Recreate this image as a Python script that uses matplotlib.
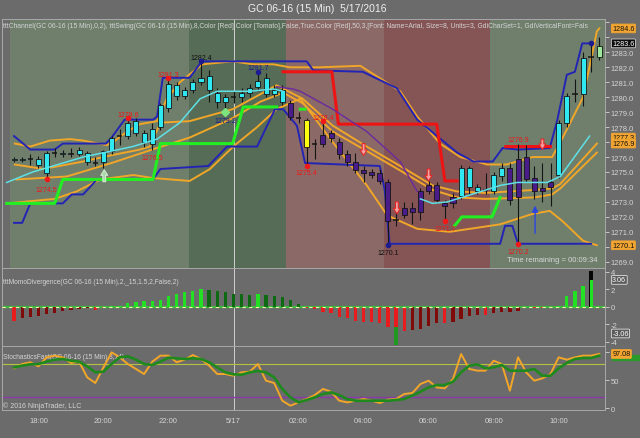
import numpy as np
import matplotlib.pyplot as plt
from matplotlib.patches import Rectangle
import matplotlib.transforms as mtransforms

plt.rcParams['font.family'] = ['Liberation Sans', 'DejaVu Sans']

# ---- 15 min bars of GC 06-16, bar 0 = 17:15 on 5/16 ----
opens = [1275.8, 1275.8, 1275.9, 1275.5, 1274.9, 1276.3, 1276.3, 1276.2, 1276.2, 1276.3,
         1275.6, 1275.7, 1276.4, 1277.4, 1277.4, 1278.4, 1277.6, 1276.9, 1278.0, 1279.3,
         1280.8, 1280.1, 1280.5, 1281.0, 1281.4, 1280.3, 1279.7, 1280.0, 1280.0, 1280.3,
         1280.7, 1281.3, 1280.2, 1280.5, 1279.6, 1278.6, 1278.5, 1276.9, 1276.9, 1277.6,
         1277.0, 1276.2, 1275.7, 1275.1, 1275.0, 1274.9, 1274.3, 1271.8, 1272.1, 1272.3,
         1272.3, 1273.7, 1274.1, 1272.9, 1272.9, 1273.4, 1275.3, 1274.0, 1273.8, 1273.7,
         1274.7, 1275.3, 1273.3, 1276.0, 1274.6, 1273.7, 1274.0, 1274.8, 1278.3, 1280.2,
         1280.2, 1282.7, 1282.7]
highs = [1276.0, 1276.0, 1276.2, 1276.1, 1276.4, 1276.6, 1276.5, 1276.6, 1276.7, 1276.4,
         1276.0, 1276.5, 1277.4, 1277.9, 1278.6, 1278.6, 1277.8, 1278.3, 1279.6, 1281.3,
         1281.0, 1280.7, 1281.2, 1282.4, 1281.8, 1280.6, 1280.2, 1280.4, 1280.6, 1280.9,
         1281.7, 1281.6, 1280.8, 1280.8, 1279.8, 1279.0, 1278.6, 1277.2, 1278.4, 1277.8,
         1277.3, 1276.5, 1276.3, 1275.4, 1275.2, 1275.2, 1274.5, 1272.5, 1273.0, 1273.0,
         1273.9, 1274.4, 1274.3, 1273.1, 1273.6, 1275.5, 1275.4, 1274.2, 1274.9, 1275.0,
         1275.6, 1275.6, 1276.9, 1276.8, 1275.4, 1275.6, 1275.6, 1278.5, 1280.3, 1281.2,
         1283.0, 1283.6, 1284.0]
lows = [1275.7, 1275.7, 1275.5, 1275.3, 1274.5, 1276.0, 1276.0, 1276.0, 1276.1, 1275.5,
        1275.4, 1275.3, 1276.2, 1276.8, 1277.2, 1277.4, 1276.7, 1276.5, 1277.8, 1279.0,
        1279.8, 1279.9, 1280.3, 1280.8, 1279.7, 1279.3, 1279.2, 1279.6, 1279.7, 1280.0,
        1280.4, 1280.0, 1280.0, 1279.5, 1278.5, 1278.3, 1275.4, 1275.9, 1276.7, 1277.0,
        1275.9, 1275.4, 1274.9, 1274.3, 1274.6, 1274.2, 1270.1, 1271.4, 1271.9, 1271.5,
        1271.8, 1273.5, 1272.9, 1271.7, 1272.6, 1273.2, 1273.5, 1273.5, 1273.5, 1273.5,
        1274.4, 1272.8, 1270.2, 1274.3, 1273.2, 1273.0, 1272.7, 1274.6, 1278.0, 1279.7,
        1279.4, 1281.7, 1282.5]
closes = [1275.9, 1275.9, 1275.9, 1275.9, 1276.3, 1276.3, 1276.2, 1276.2, 1276.5, 1275.7,
          1275.6, 1276.4, 1277.3, 1277.4, 1278.3, 1277.6, 1277.0, 1277.9, 1279.5, 1280.9,
          1280.1, 1280.5, 1281.0, 1281.3, 1280.5, 1279.7, 1280.0, 1280.0, 1280.3, 1280.6,
          1281.1, 1280.2, 1280.5, 1279.7, 1278.7, 1278.6, 1276.7, 1276.9, 1277.5, 1277.3,
          1276.2, 1275.7, 1275.1, 1274.9, 1274.8, 1274.4, 1271.7, 1271.8, 1272.6, 1272.6,
          1273.7, 1274.1, 1273.1, 1272.7, 1273.3, 1275.3, 1274.0, 1273.7, 1273.8, 1274.8,
          1275.3, 1273.1, 1275.9, 1274.5, 1273.7, 1273.9, 1274.3, 1278.3, 1280.1, 1280.2,
          1282.6, 1282.7, 1283.4]
# c = cyan, p = purple, y = yellow, k = neutral, g = live bar
bar_kind = "c" * 34 + "p" + "k" + "y" + "k" + "p" * 17 + "c" * 6 + "p" * 6 + "c" * 5 + "g"

# indicator lines (bar index, price)
chan_hi_x = [0, 2, 5, 6, 11.3, 12, 13.6, 17.1, 17.6, 18.3, 21.6, 23.1, 36, 36.8, 42.9, 47.1,
             49.6, 54.5, 56.5, 58.9, 60.1, 62, 65.9, 66.8, 68, 69, 69.9, 71]
chan_hi_y = [1277.4, 1276.5, 1276.5, 1276.9, 1276.9, 1277.3, 1278.5, 1278.5, 1278.7, 1281.3,
             1281.3, 1282.4, 1282.4, 1281.8, 1281.7, 1280.6, 1278.5, 1276.3, 1275.7, 1275.7,
             1276.6, 1276.5, 1276.6, 1278.4, 1281.5, 1281.7, 1283.6, 1283.6]
chan_lo_x = [0, 1, 2, 6, 7.1, 8.5, 10.2, 17.1, 18, 23.9, 26.2, 29.9, 32.1, 33.1, 34.8, 35.8,
             45, 45.6, 46.2, 59.8, 60.4, 61.3, 62, 71]
chan_lo_y = [1271.6, 1271.6, 1272.9, 1272.9, 1273.5, 1273.5, 1274.5, 1274.5, 1275.2, 1275.4,
             1276.7, 1276.7, 1279.2, 1279.2, 1278.1, 1275.6, 1275.4, 1273.8, 1270.2, 1270.2,
             1271.4, 1271.4, 1270.2, 1270.2]
band_up_x = [0.1, 2, 4.4, 6.9, 8.5, 11.4, 12.2, 13.9, 15.5, 17.6, 18.8, 20.4, 22, 23.2, 26.9,
             29.4, 31.9, 33.9, 37.6, 42.6, 47.5, 49.6, 52.4, 54.9, 58.2, 60.6, 63.8, 66.2,
             67.5, 70, 71.7, 72]
band_up_y = [1276.9, 1276.7, 1277.1, 1277.2, 1277.1, 1276.8, 1277.0, 1277.7, 1278.2, 1278.4,
             1279.9, 1281.0, 1281.7, 1282.2, 1282.4, 1282.2, 1282.2, 1282.0, 1282.0, 1282.1,
             1280.4, 1278.7, 1276.9, 1276.0, 1275.5, 1275.5, 1276.0, 1276.0, 1277.3, 1280.0,
             1284.4, 1284.6]
band_m1_x = [0.1, 3.6, 8.5, 11.8, 15.5, 16.7, 18, 21.6, 26.9, 30.3, 32.3, 35.5, 39.2, 43.4,
             47.5, 51.5, 54.5, 58, 64, 66.2, 67.2, 71.7]
band_m1_y = [1275.5, 1275.2, 1275.7, 1276.1, 1276.5, 1276.7, 1278.3, 1278.4, 1279.2, 1280.2,
             1280.8, 1279.9, 1278.1, 1276.7, 1275.4, 1274.1, 1273.7, 1273.6, 1273.8, 1273.9,
             1274.2, 1276.9]
band_m2_x = [0.3, 6.5, 12, 17, 21.6, 26.9, 30.3, 33.1, 35.5, 39.2, 43.4, 47.5, 51.5, 54.5,
             58, 64, 66.2, 67.2, 71.7]
band_m2_y = [1274.5, 1274.7, 1275.6, 1276.5, 1277.3, 1278.6, 1279.7, 1280.3, 1279.6, 1277.7,
             1276.4, 1275.1, 1273.8, 1273.3, 1273.2, 1273.3, 1273.5, 1273.9, 1276.3]
band_lo_x = [-0.9, 5, 7.7, 10.6, 14.7, 17, 21.6, 24.1, 26.2, 27.4, 29.9, 32.3, 35.2, 39.2,
             43.4, 45.9, 49.6, 53.6, 59.8, 63.8, 65.9, 67.5, 70, 71.7]
band_lo_y = [1272.9, 1273.2, 1273.7, 1274.5, 1274.8, 1274.6, 1274.4, 1275.2, 1276.3, 1276.9,
             1278.0, 1279.2, 1279.9, 1277.0, 1274.1, 1272.1, 1271.2, 1271.0, 1271.5, 1272.2,
             1272.4, 1271.7, 1270.4, 1270.1]
ma_x = [-0.9, 2.3, 8.5, 14.6, 17.6, 20.4, 22.9, 25, 29, 31.9, 33.1, None,
        50, 51.5, 53.3, 55.7, 59.8, 61.9, 65.6, 67.2, 70.8]
ma_y = [1274.3, 1275.0, 1276.0, 1276.7, 1277.2, 1278.3, 1279.9, 1280.4, 1280.4, 1280.55,
        1280.4, None, 1273.2, 1272.9, 1273.0, 1273.4, 1274.1, 1274.3, 1274.3, 1274.7, 1277.4]
dn_ma_x = [32.3, 34.3, 35.2, 39.2, 43.4, 47.5, 49.6]
dn_ma_y = [1280.7, 1280.55, 1280.4, 1279.2, 1277.7, 1275.7, 1273.7]
stop_up_x = [-0.9, 5.0, 6.0, 17.1, 18.0, 26.9, 28.2, 32.3, None, 35.2, 35.8, None,
             54.2, 55.1, 58.8, 59.8]
stop_up_y = [1272.9, 1272.9, 1274.5, 1274.5, 1276.9, 1276.9, 1279.35, 1279.35, None,
             1279.2, 1279.2, None, 1271.4, 1272.0, 1272.0, 1273.3]
stop_dn_x = [33.1, 39.1, 39.9, 52.0, 53.0, 54.5, None, 60.5, 66.0]
stop_dn_y = [1281.7, 1281.7, 1278.2, 1278.2, 1274.4, 1274.4, None, 1276.7, 1276.7]

# swing labels (bar, price, text, colour)
swing_labels = [(4, 1273.85, '1274.5', 'r'), (14, 1278.85, '1278.6', 'r'),
                (17, 1275.95, '1276.5', 'r'), (19, 1281.55, '1281.3', 'r'),
                (23, 1282.65, '1282.4', 'k'), (26, 1278.45, '1279.2', 'b'),
                (30, 1282.0, '1281.7', 'b'), (36, 1274.95, '1275.4', 'r'),
                (38, 1278.65, '1278.4', 'r'), (46, 1269.6, '1270.1', 'k'),
                (53, 1271.2, '1271.7', 'r'), (62, 1277.2, '1276.9', 'r'),
                (62, 1269.65, '1270.2', 'r')]
swing_dots = [(4, 1274.5, 'r'), (14, 1278.6, 'r'), (19, 1281.3, 'r'), (23, 1282.4, 'b'),
              (30, 1281.7, 'b'), (36, 1275.4, 'r'), (38, 1278.4, 'r'), (46, 1270.1, 'b'),
              (53, 1271.7, 'r'), (62, 1270.2, 'r'), (71, 1283.6, 'b')]
down_arrows = [(43, 1276.9, 1276.1), (47.1, 1273.0, 1272.2), (51, 1275.2, 1274.4), (65, 1277.2, 1276.5)]

# momentum divergence histogram
momo = [-1.6, -1.33, -1.15, -1.05, -0.84, -0.72, -0.53, -0.35, -0.27, -0.2,
        -0.35, -0.2, 0.05, 0.1, 0.38, 0.5, 0.6, 0.7, 0.8, 1.25,
        1.45, 1.7, 1.8, 2.0, 1.95, 1.84, 1.64, 1.5, 1.45, 1.37,
        1.45, 1.33, 1.25, 1.07, 0.8, 0.3, -0.1, -0.27, -0.65, -0.72,
        -1.2, -1.33, -1.6, -1.8, -1.8, -1.85, -2.28, -2.3, -2.74, -2.67,
        -2.55, -2.25, -1.85, -1.9, -1.8, -1.4, -1.05, -0.92, -0.95, -0.75,
        -0.65, -0.57, -0.45, -0.05, -0.1, -0.1, -0.2, 0.05, 1.17, 1.8,
        2.4, 3.06, np.nan]
div_bars = [47, 71]
div_vals = [-4.4, 4.05]
div_cols = ['#1f9a1f', '#050505']

# stochastics fast (3, 14)
stoch_k = [71.4, 79.2, 82.2, 75.0, 91.1, 94.1, 91.1, 81.0, 83.3, 55.4,
           45.3, 73.2, 100.0, 91.1, 79.2, 70.3, 61.3, 83.3, 94.1, 94.1,
           82.2, 86.9, 95.2, 88.1, 76.2, 61.3, 61.3, 58.3, 64.3, 65.5,
           79.2, 49.4, 45.3, 13.7, 4.8, 10.7, 16.7, 23.8, 34.6, 29.8,
           13.7, 10.7, 13.7, 16.7, 13.7, 9.6, 15.5, 16.7, 25.6, 27.4,
           43.5, 49.4, 37.5, 35.7, 52.4, 97.0, 70.3, 67.3, 67.3, 85.1,
           79.2, 31.6, 91.1, 64.3, 49.4, 53.6, 61.3, 91.1, 86.9, 91.1,
           94.1, 94.1, 97.08]
stoch_d = [73.2, 76.2, 78.6, 79.2, 83.3, 86.9, 88.1, 85.1, 83.3, 75.0,
           64.3, 65.5, 79.2, 91.1, 92.9, 86.9, 79.2, 77.4, 83.3, 90.5,
           89.3, 88.1, 89.3, 88.1, 82.2, 73.2, 64.3, 60.7, 60.1, 64.3,
           66.7, 64.3, 55.4, 34.6, 19.7, 10.7, 14.9, 19.7, 25.6, 28.6,
           23.8, 16.7, 13.7, 13.7, 13.7, 13.7, 13.7, 14.9, 16.7, 22.7,
           29.8, 37.5, 41.7, 41.7, 47.6, 64.3, 76.2, 78.6, 71.4, 73.2,
           77.4, 67.3, 67.3, 67.3, 70.3, 58.3, 58.3, 71.4, 81.0, 88.1,
           89.9, 89.9, 94.1]

time_ticks = [3, 11, 19, 27, 35, 43, 51, 59, 67]
time_labels = ['18:00', '20:00', '22:00', '5/17', '02:00', '04:00', '06:00', '08:00', '10:00']

# session shading: edges in bar units and colours
session_edges = [-0.5, 21.5, 33.5, 45.5, 58.5, 73]
session_cols = ['#6f7f6c', '#566c56', '#8a6966', '#855556', '#6f7f6c']

# right-hand value tags
price_tags = [1284.6, 1283.6, 1277.3, 1276.9, 1270.1]
momo_tags = [3.06, -3.06]
stoch_tag = 97.08

BG = '#6b6b6b'
TXT = '#d4d4d4'
W, H = 640, 439

fig = plt.figure(figsize=(W / 100, H / 100), dpi=100, facecolor=BG)


def rect(x0, y0, x1, y1):
    return [x0 / W, 1 - y1 / H, (x1 - x0) / W, (y1 - y0) / H]


ax = fig.add_axes(rect(2, 20, 605, 269))
axm = fig.add_axes(rect(2, 269, 605, 347), sharex=ax)
axs = fig.add_axes(rect(2, 347, 605, 411), sharex=ax)

for a in (ax, axm, axs):
    a.set_facecolor(BG)
    for s in a.spines.values():
        s.set_color('#a8a8a8')
        s.set_linewidth(0.7)
    a.yaxis.tick_right()
    a.tick_params(axis='y', length=3, width=0.6, pad=1, labelsize=5.5, colors=TXT)
    a.axvline(27, color='#d0d0d0', lw=0.7, zorder=2)
ax.tick_params(axis='x', length=0, labelbottom=False)
axm.tick_params(axis='x', length=0, labelbottom=False)
axs.tick_params(axis='x', length=0, pad=5, labelsize=5.5, colors=TXT)
ax.set_xlim(-1.48, 72.7)

# ---------------- price panel ----------------
ax.set_ylim(1268.58, 1285.23)
pticks = np.arange(1269, 1286, 1)
ax.set_yticks(pticks)
# labels hidden behind the value tags are left blank
ax.set_yticklabels(['' if v in (1270, 1277, 1284, 1285) else f'{v:.1f}' for v in pticks])

for i in range(len(session_cols)):
    ax.axvspan(session_edges[i], session_edges[i + 1], color=session_cols[i], lw=0, zorder=0)

ax.plot(band_up_x, band_up_y, color='#f0a628', lw=1.4, zorder=3)
ax.plot(band_m1_x, band_m1_y, color='#f0a628', lw=1.4, zorder=3)
ax.plot(band_m2_x, band_m2_y, color='#f0a628', lw=1.4, zorder=3)
ax.plot(band_lo_x, band_lo_y, color='#f0a628', lw=1.4, zorder=3)
ax.plot(chan_hi_x, chan_hi_y, color='#2424b4', lw=1.4, zorder=3)
ax.plot(chan_lo_x, chan_lo_y, color='#2424b4', lw=1.4, zorder=3)
ax.plot(stop_up_x, stop_up_y, color='#22ee22', lw=2.2, zorder=3)
ax.plot(stop_dn_x, stop_dn_y, color='#ee1414', lw=2.2, zorder=3)
ax.plot(dn_ma_x, dn_ma_y, color='#6a2a9e', lw=1.0, zorder=7)
ax.plot(ma_x, ma_y, color='#5ee0e6', lw=1.1, zorder=7)

body_cols = {'c': '#30e8f2', 'p': '#4a1c8a', 'y': '#ffff10', 'k': '#30e8f2', 'g': '#9ee89e'}
for i in range(len(opens)):
    o, hi, lo, c = opens[i], highs[i], lows[i], closes[i]
    ax.vlines(i, lo, hi, color='#151515', lw=0.8, zorder=5)
    b0, b1 = min(o, c), max(o, c)
    if b1 - b0 < 0.05:
        ax.hlines(o, i - 0.33, i + 0.33, color='#151515', lw=1.1, zorder=6)
    else:
        ax.add_patch(Rectangle((i - 0.31, b0), 0.62, b1 - b0, facecolor=body_cols[bar_kind[i]],
                               edgecolor='#151515', lw=0.6, zorder=6))

lab_cols = {'r': '#f01818', 'k': '#101010', 'b': '#1c1c90'}
for bx, by, t, c in swing_labels:
    ax.text(bx, by, t, color=lab_cols[c], fontsize=5, ha='center', va='center', zorder=8)
for bx, by, c in swing_dots:
    ax.plot(bx, by, 'o', ms=3, color=lab_cols[c], zorder=8)
ax.plot(26, 1279.0, 'D', ms=4, color='#7ee27e', zorder=8)

arrow_style = 'simple,head_width=0.5,head_length=0.4,tail_width=0.2'
for bx, top, tip in down_arrows:
    ax.annotate('', xy=(bx, tip), xytext=(bx, top),
                arrowprops=dict(arrowstyle=arrow_style, mutation_scale=10, shrinkA=0, shrinkB=0,
                                fc='#f4a0a0', ec='#e82020', lw=0.7), zorder=8)
ax.annotate('', xy=(11.1, 1275.15), xytext=(11.1, 1274.35),
            arrowprops=dict(arrowstyle=arrow_style, mutation_scale=10, shrinkA=0, shrinkB=0,
                            fc='#a8d8a8', ec='#d8f0d8', lw=0.7), zorder=8)
ax.annotate('', xy=(64.1, 1272.75), xytext=(64.1, 1270.9),
            arrowprops=dict(arrowstyle='-|>', color='#2c46e0', lw=1.0, mutation_scale=9,
                            shrinkA=0, shrinkB=0), zorder=8)

# indicator caption is cut off at the panel edge in the original
ax.text(0.002, 0.973, 'tttChannel(GC 06-16 (15 Min),0,2), tttSwing(GC 06-16 (15 Min),8,Color [Red],'
        'Color [Tomato],False,True,Color [Red],50,3,[Font: Name=Arial, Size=8, Units=3, '
        'GdiCharSet=1, GdiVerticalFont=Fals', transform=ax.transAxes, fontsize=4.9,
        color=TXT, ha='left', va='center', zorder=9)
ax.text(0.987, 0.036, 'Time remaining = 00:09:34', transform=ax.transAxes, fontsize=5.5,
        color='#d8d8d8', ha='right', va='center', zorder=9)


def tag(axis, yv, txt, fc, tc='#111111', ec=None):
    tr = mtransforms.blended_transform_factory(axis.transAxes, axis.transData)
    axis.text(1.012, yv, txt, transform=tr, fontsize=5.2, color=tc, ha='left', va='center',
              bbox=dict(boxstyle='round,pad=0.12', fc=fc, ec=ec or fc, lw=0.6),
              clip_on=False, zorder=10)


for v in price_tags:
    if v == 1283.6:
        tag(ax, v, f'{v:.1f}', '#0c0c0c', tc='white', ec='#d0d0d0')
    else:
        tag(ax, v, f'{v:.1f}', '#f2a530')

# ---------------- momentum panel ----------------
axm.set_ylim(-4.49, 4.42)
axm.set_yticks([-4, -2, 0, 2, 4])
axm.set_yticklabels(['-4', '-2', '0', '2', '4'])
mcols = []
for i, v in enumerate(momo):
    prev = momo[i - 1] if i > 0 else v
    if v >= 0:
        mcols.append('#22e022' if v >= prev else '#0e6a12')
    else:
        mcols.append('#e81c1c' if v <= prev else '#7e0a0a')
axm.bar(div_bars, div_vals, width=0.45, color=div_cols, zorder=3)
axm.bar(np.arange(len(momo)), momo, width=0.4, color=mcols, zorder=4)
axm.axhline(0, color='#3cb83c', lw=1.6, zorder=2)
axm.axhline(0, color='#f4f0b0', lw=0.8, ls=(0, (3, 3)), zorder=5)
axm.text(0.002, 0.83, 'tttMomoDivergence(GC 06-16 (15 Min),2,_15,1.5,2,False,2)',
         transform=axm.transAxes, fontsize=4.8, color=TXT, ha='left', va='center')
for v in momo_tags:
    tag(axm, v, f'{v:.2f}', '#5c5c5c', tc='white', ec='#e0e0e0')

# ---------------- stochastics panel ----------------
axs.set_ylim(-2.9, 111.3)
axs.set_yticks([0, 50, 100])
axs.set_yticklabels(['0', '50', ''])
axs.axhline(80, color='#b4c244', lw=0.8, zorder=2)
axs.axhline(20, color='#8a3aa8', lw=1.0, zorder=2)
xs = np.arange(len(stoch_k))
axs.plot(xs, stoch_k, color='#f2a628', lw=1.4, zorder=4)
axs.plot(xs, stoch_d, color='#1e8a1e', lw=1.9, zorder=5)
axs.text(0.002, 0.84, 'StochasticsFast(GC 06-16 (15 Min),3,14)', transform=axs.transAxes,
         fontsize=4.8, color=TXT, ha='left', va='center')
axs.text(0.002, 0.07, '\u00a9 2016 NinjaTrader, LLC', transform=axs.transAxes,
         fontsize=5, color=TXT, ha='left', va='center')
# green %D tag peeking out under the %K tag
str_ = mtransforms.blended_transform_factory(axs.transAxes, axs.transData)
axs.add_patch(Rectangle((1.012, stoch_d[-1] - 8), 0.05, 9, transform=str_, fc='#2a9a2a',
                        ec='#2a9a2a', clip_on=False, zorder=9))
tag(axs, stoch_tag, f'{stoch_tag:.2f}', '#f2a530')
axs.set_xticks(time_ticks)
axs.set_xticklabels(time_labels)

fig.text(0.496, 1 - 9 / H, 'GC 06-16 (15 Min)  5/17/2016', fontsize=7.5, color='#f0f0f0',
         ha='center', va='center')

fig.savefig('out.png', dpi=100, facecolor=BG)
